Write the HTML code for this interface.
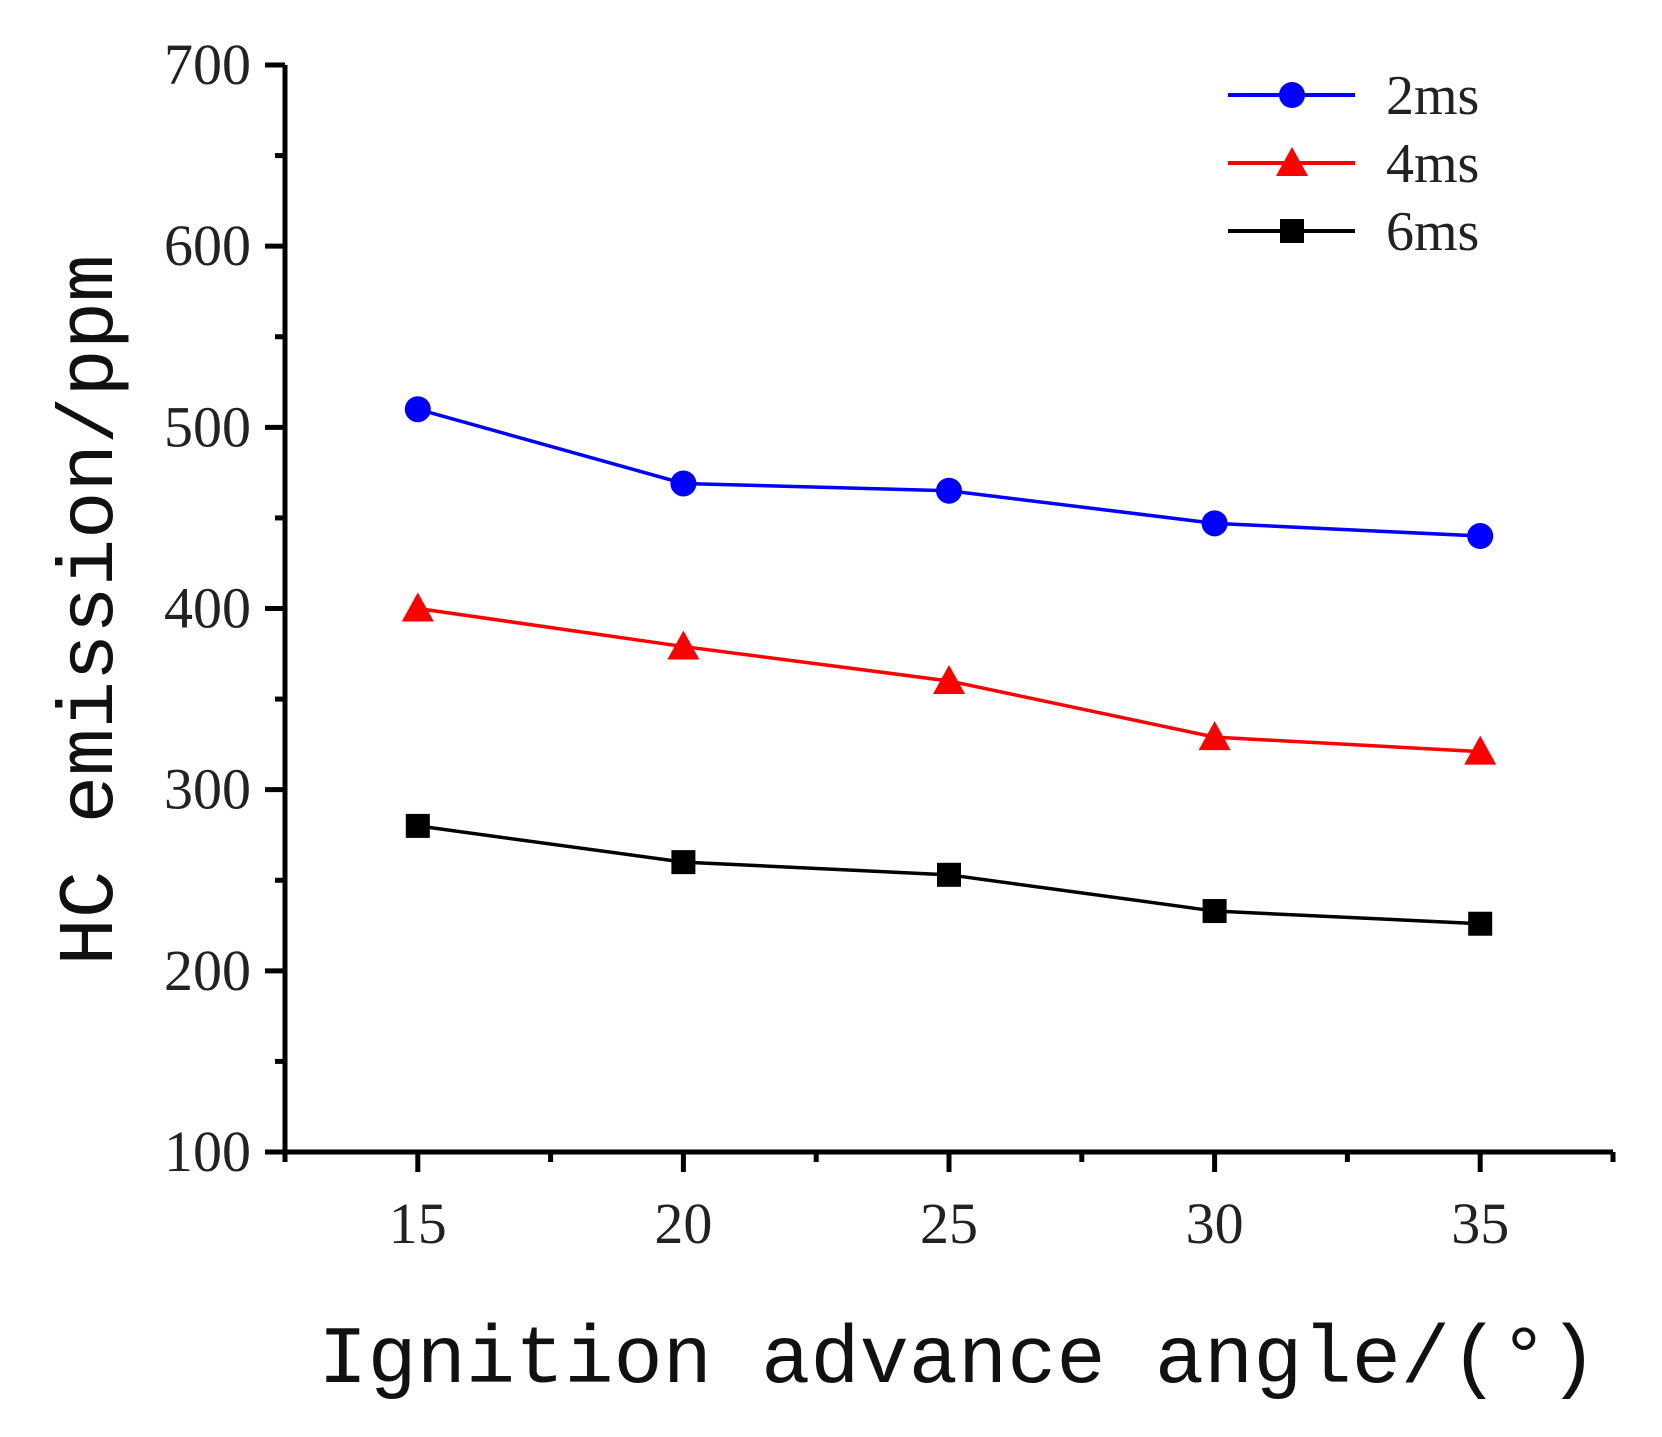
<!DOCTYPE html>
<html><head><meta charset="utf-8"><style>
body{margin:0;background:#fff}
svg{display:block}
</style></head><body>
<svg id="chart" width="1662" height="1437" viewBox="0 0 1662 1437" xmlns="http://www.w3.org/2000/svg">
<g id="axes"></g>
<g id="series"></g>
<g id="legend"></g>
<text x="958" y="1382" text-anchor="middle" font-family="Liberation Mono, monospace" font-size="82" fill="#111">Ignition advance angle/(°)</text>
<text transform="translate(112,610) rotate(-90)" text-anchor="middle" font-family="Liberation Mono, monospace" font-size="79" fill="#111">HC emission/ppm</text>
</svg>
<script>
const categories = [15, 20, 25, 30, 35];
const series2ms = [510, 469, 465, 447, 440];
const series4ms = [400, 379, 360, 329, 321];
const series6ms = [280, 260, 253, 233, 226];
const yTicks = [100, 200, 300, 400, 500, 600, 700];
const xTicks = [15, 20, 25, 30, 35];
const seriesNames = ['2ms', '4ms', '6ms'];

const NS = 'http://www.w3.org/2000/svg';
const X0 = 285, X1 = 1613, Y0 = 1152, Y1 = 65;
const xMin = 12.5, xMax = 37.5, yMin = 100, yMax = 700;
function sx(v){ return X0 + (v - xMin) / (xMax - xMin) * (X1 - X0); }
function sy(v){ return Y0 - (v - yMin) / (yMax - yMin) * (Y0 - Y1); }
function mk(tag, attrs, parent){
  const e = document.createElementNS(NS, tag);
  for (const k in attrs) e.setAttribute(k, attrs[k]);
  parent.appendChild(e);
  return e;
}
const axes = document.getElementById('axes');
let e;
e = mk('line', {x1:X0, y1:Y1, x2:X0, y2:Y0+1, stroke:'#000', 'stroke-width':5}, axes);


e = mk('line', {x1:X0-2, y1:Y0, x2:X1, y2:Y0, stroke:'#000', 'stroke-width':5}, axes);


for (let v = yMin; v <= yMax; v += 50) {
  const major = v % 100 === 0;
  e = mk('line', {x1:X0 - (major ? 20 : 10), y1:sy(v), x2:X0, y2:sy(v), stroke:'#000', 'stroke-width':5}, axes);
  
  
}
yTicks.forEach(v => {
  e = mk('text', {x:251, y:sy(v)+19, 'text-anchor':'end', 'font-family':'Liberation Serif, serif', 'font-size':58, fill:'#222'}, axes);
  e.textContent = v;
  
  
});
for (let v = xMin; v <= xMax + 0.01; v += 2.5) {
  const major = Math.abs(v % 5) < 0.01;
  e = mk('line', {x1:sx(v), y1:Y0, x2:sx(v), y2:Y0 + (major ? 20 : 10), stroke:'#000', 'stroke-width':5}, axes);
  
  
}
xTicks.forEach(v => {
  e = mk('text', {x:sx(v), y:1243, 'text-anchor':'middle', 'font-family':'Liberation Serif, serif', 'font-size':58, fill:'#222'}, axes);
  e.textContent = v;
  
  
});

const seriesG = document.getElementById('series');
function marker(shape, cx, cy, color, parent){
  let m;
  if (shape === 'circle') m = mk('circle', {cx:cx, cy:cy, r:13, fill:color}, parent);
  else if (shape === 'tri') m = mk('polygon', {points:`${cx},${cy-16} ${cx-16},${cy+13} ${cx+16},${cy+13}`, fill:color}, parent);
  else m = mk('rect', {x:cx-12, y:cy-12, width:24, height:24, fill:color}, parent);
  return m;
}
const defs = [
  {vals:series2ms, color:'#0000ff', shape:'circle'},
  {vals:series4ms, color:'#ff0000', shape:'tri'},
  {vals:series6ms, color:'#000000', shape:'rect'}
];
defs.forEach((d, i) => {
  const pts = d.vals.map((v, j) => sx(categories[j]) + ',' + sy(v)).join(' ');
  e = mk('polyline', {points:pts, fill:'none', stroke:d.color, 'stroke-width':3.5}, seriesG);
  
  
  d.vals.forEach((v, j) => {
    e = marker(d.shape, sx(categories[j]), sy(v), d.color, seriesG);
    
    
  });
});

const legend = document.getElementById('legend');
defs.forEach((d, i) => {
  const y = 95 + i * 68;
  e = mk('line', {x1:1228, y1:y, x2:1355, y2:y, stroke:d.color, 'stroke-width':4}, legend);
  
  
  e = marker(d.shape, 1292, y, d.color, legend);
  
  
  e = mk('text', {x:1386, y:y+19, 'font-family':'Liberation Serif, serif', 'font-size':56, fill:'#222'}, legend);
  e.textContent = seriesNames[i];
  
  
});
</script>
</body></html>
